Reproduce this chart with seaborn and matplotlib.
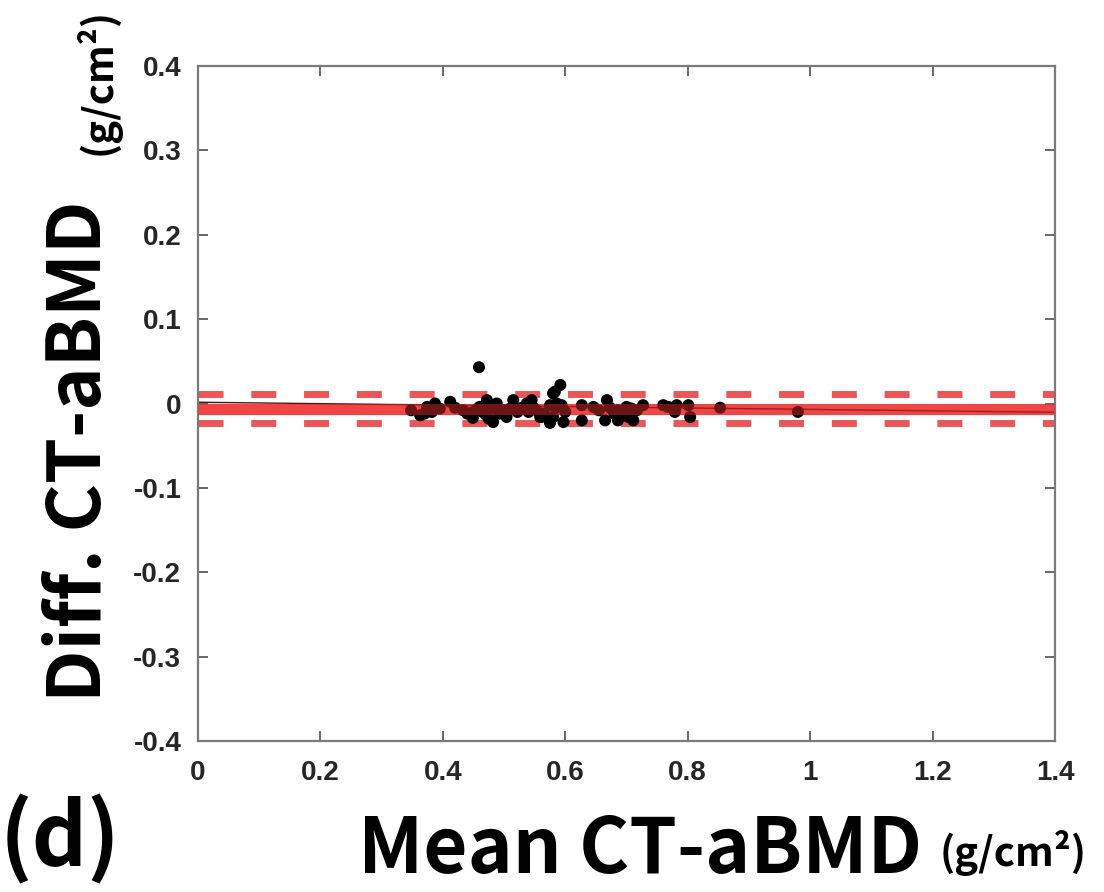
import numpy as np
import pandas as pd
import matplotlib
matplotlib.use("Agg")
import matplotlib.pyplot as plt
import seaborn as sns

# ---- data ----
mean_bmd = [0.348, 0.363, 0.374, 0.387, 0.382, 0.412, 0.420, 0.433, 0.447, 0.449,
            0.459, 0.460, 0.472, 0.480, 0.482, 0.488, 0.499, 0.504, 0.515, 0.529,
            0.537, 0.545, 0.548, 0.559, 0.575, 0.580, 0.586, 0.592, 0.583, 0.575,
            0.586, 0.594, 0.561, 0.580, 0.575, 0.597, 0.627, 0.646, 0.627, 0.668,
            0.673, 0.665, 0.686, 0.686, 0.700, 0.703, 0.711, 0.717, 0.727, 0.760,
            0.768, 0.782, 0.779, 0.801, 0.804, 0.853, 0.980, 0.370, 0.395, 0.440,
            0.465, 0.475, 0.492, 0.510, 0.522, 0.553, 0.565, 0.600, 0.655, 0.680,
            0.695, 0.708, 0.380, 0.455, 0.470, 0.540]
diff_bmd = [-0.008, -0.014, -0.004, 0.000, -0.010, 0.002, -0.005, -0.008, -0.011, -0.017,
            0.043, -0.004, 0.004, -0.005, -0.022, 0.000, -0.008, -0.016, 0.004, -0.005,
            0.000, 0.004, -0.005, -0.016, -0.020, 0.012, 0.000, 0.022, 0.014, -0.002,
            -0.005, -0.002, -0.016, -0.016, -0.023, -0.022, -0.002, -0.004, -0.020, 0.004,
            -0.005, -0.020, -0.008, -0.020, -0.004, -0.016, -0.020, -0.008, -0.002, -0.002,
            -0.004, -0.002, -0.010, -0.002, -0.016, -0.005, -0.010, -0.012, -0.006, -0.012,
            -0.010, -0.018, -0.012, -0.006, -0.010, -0.008, -0.012, -0.010, -0.008, -0.012,
            -0.014, -0.006, -0.009, -0.007, -0.013, -0.010]

mean_diff = -0.0062
loa_upper = 0.0113
loa_lower = -0.0235
reg_intercept = 0.0015
reg_slope = -0.0085

x_ticks = [0, 0.2, 0.4, 0.6, 0.8, 1.0, 1.2, 1.4]
x_ticklabels = ["0", "0.2", "0.4", "0.6", "0.8", "1", "1.2", "1.4"]
y_ticks = [-0.4, -0.3, -0.2, -0.1, 0, 0.1, 0.2, 0.3, 0.4]
y_ticklabels = ["-0.4", "-0.3", "-0.2", "-0.1", "0", "0.1", "0.2", "0.3", "0.4"]

# ---- figure ----
sns.set_theme(style="white")
plt.rcParams['font.family'] = ['Noto Sans CJK JP', 'DejaVu Sans']

W, H = 1104, 892
fig = plt.figure(figsize=(W / 100, H / 100), dpi=100)
ax = fig.add_axes([198 / W, 1 - 741 / H, (1055 - 198) / W, (741 - 66) / H])

df = pd.DataFrame({"mean": mean_bmd, "diff": diff_bmd})

# limits of agreement (dashed)
for v in (loa_upper, loa_lower):
    ax.axhline(v, color="#e8383c", lw=5, ls=(0, (3.6, 4.0)), alpha=0.85, zorder=1)
# mean bias (thick band)
ax.axhline(mean_diff, color="#f02a2a", lw=8, alpha=0.8, zorder=1)
# regression line
xr = np.array([0.0, 1.4])
reg_df = pd.DataFrame({"x": xr, "y": reg_intercept + reg_slope * xr})
sns.lineplot(data=reg_df, x="x", y="y", ax=ax, color="#5a1010", lw=1.0, zorder=2)

sns.scatterplot(data=df, x="mean", y="diff", ax=ax, color="black", s=75,
                edgecolor="none", zorder=3)
ax.axhline(mean_diff, color="#f03030", lw=8, alpha=0.45, zorder=4)

ax.set_xlim(0, 1.4)
ax.set_ylim(-0.4, 0.4)
ax.set_xticks(x_ticks)
ax.set_xticklabels(x_ticklabels)
ax.set_yticks(y_ticks)
ax.set_yticklabels(y_ticklabels)
ax.set_xlabel("")
ax.set_ylabel("")
for lab in ax.get_xticklabels() + ax.get_yticklabels():
    lab.set_fontfamily(['Liberation Sans', 'DejaVu Sans'])
    lab.set_fontweight('bold')
    lab.set_fontsize(20)
    lab.set_color('#262626')
ax.tick_params(axis='y', pad=12)
ax.tick_params(axis='x', pad=14)
ax.tick_params(direction='in', length=7, width=1.2, color='#4d4d4d',
               top=True, right=True, bottom=True, left=True,
               labeltop=False, labelright=False)
for sp in ax.spines.values():
    sp.set_color('#7a7a7a')
    sp.set_linewidth(1.6)
ax.set_facecolor('white')

# axis titles
fig.text(922 / W, 1 - 850 / H, "Mean CT-aBMD", ha='right', va='center',
         fontsize=55, fontweight='bold', color='black')
fig.text(940 / W, 1 - 853 / H, "(g/cm²)", ha='left', va='center',
         fontsize=29, fontweight='bold', color='black')
fig.text(80 / W, 1 - 702 / H, "Diff. CT-aBMD", ha='center', va='bottom', rotation=90,
         fontsize=53, fontweight='bold', color='black')
fig.text(98 / W, 1 - 8 / H, "(g/cm²)", ha='center', va='top', rotation=90,
         fontsize=29, fontweight='bold', color='black')
fig.text(0 / W, 1 - 840 / H, "(d)", ha='left', va='center',
         fontsize=62, fontweight='bold', color='black')

fig.savefig("out.png", dpi=100, facecolor='white')
